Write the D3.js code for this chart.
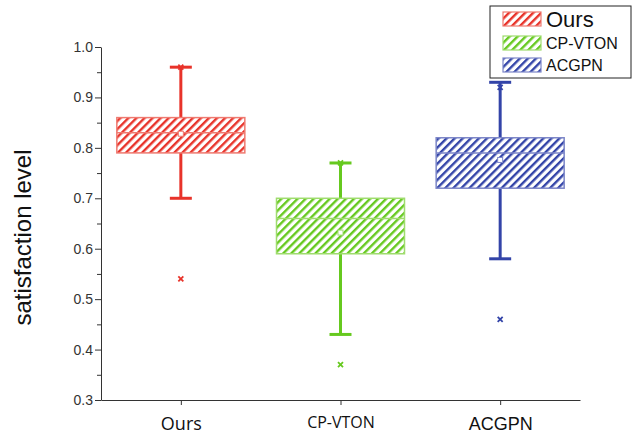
<!DOCTYPE html>
<html>
<head>
<meta charset="utf-8">
<script src="https://cdnjs.cloudflare.com/ajax/libs/d3/7.8.5/d3.min.js"></script>
<style>
  body { margin:0; padding:0; background:#fff; }
  svg text { font-family: Arial, "Liberation Sans", sans-serif; }
</style>
</head>
<body>
<svg id="chart" width="632" height="434"></svg>
<script>
// data
var methods = ["Ours", "CP-VTON", "ACGPN"];
var q1      = [0.79, 0.59, 0.72];
var median  = [0.83, 0.66, 0.79];
var q3      = [0.86, 0.70, 0.82];
var mean    = [0.828, 0.632, 0.776];
var whiskLo = [0.70, 0.43, 0.58];
var whiskHi = [0.96, 0.77, 0.93];
var minMark = [0.54, 0.37, 0.46];
var maxMark = [0.96, 0.77, 0.92];
var yTicks  = [0.3, 0.4, 0.5, 0.6, 0.7, 0.8, 0.9, 1.0];

var colors = ["#e8332a", "#66c91f", "#3344a8"];
var light  = ["#ef7a70", "#9fdc6e", "#7c86c8"];

var svg = d3.select("#chart");
var margin = {top: 47, right: 52, bottom: 34, left: 101};
var width = 632 - margin.left - margin.right,
    height = 434 - margin.top - margin.bottom;

var x = d3.scalePoint().domain(methods).range([0, width]).padding(0.5);
var y = d3.scaleLinear().domain([0.3, 1.0]).range([height, 0]);

var defs = svg.append("defs");
methods.forEach(function(m, i) {
  var p = defs.append("pattern")
    .attr("id", "hatch" + i)
    .attr("patternUnits", "userSpaceOnUse")
    .attr("width", 5.7).attr("height", 5.7)
    .attr("patternTransform", "rotate(45)");
  p.append("rect").attr("width", 5.7).attr("height", 5.7).attr("fill", "#fff");
  p.append("line").attr("x1", 1.2).attr("y1", 0).attr("x2", 1.2).attr("y2", 5.7)
    .attr("stroke", colors[i]).attr("stroke-width", 2.4);
});

var g = svg.append("g").attr("transform", "translate(" + margin.left + "," + margin.top + ")");

// y axis with minor ticks
g.append("g")
  .call(d3.axisLeft(y).tickValues(d3.range(0.35, 1.0, 0.1)).tickSize(4).tickFormat(""))
  .call(function(a) { a.select(".domain").remove(); a.selectAll("line").attr("stroke", "#333"); });
g.append("g")
  .call(d3.axisLeft(y).tickValues(yTicks).tickSize(6).tickSizeOuter(0).tickFormat(d3.format(".1f")))
  .call(function(a) {
    a.select(".domain").attr("stroke", "#333");
    a.selectAll("line").attr("stroke", "#333");
    a.selectAll("text").attr("font-size", 14).attr("fill", "#333").attr("x", -8);
  });

g.append("g")
  .attr("transform", "translate(0," + height + ")")
  .call(d3.axisBottom(x).tickSize(5).tickSizeOuter(0))
  .call(function(a) {
    a.select(".domain").attr("stroke", "#333");
    a.selectAll("line").attr("stroke", "#333");
    a.selectAll("text").attr("fill", "#111").attr("y", 14).attr("dy", "0.9em")
      .attr("font-size", function(d) { return d === "CP-VTON" ? 16 : 18; })
      .style("font-family", function(d) { return d === "ACGPN" ? "Arial, 'Liberation Sans', sans-serif" : "'Open Sans', 'DejaVu Sans', sans-serif"; });
  });

svg.append("text")
  .attr("transform", "translate(31," + (margin.top + height / 2 + 14) + ") rotate(-90)")
  .attr("text-anchor", "middle")
  .attr("font-size", 24).attr("fill", "#111")
  .text("satisfaction level");

var boxW = 128, capW = 22;
methods.forEach(function(m, i) {
  var cx = x(m), c = colors[i];
  var bg = g.append("g");
  // whiskers
  bg.append("line").attr("x1", cx).attr("x2", cx).attr("y1", y(q3[i])).attr("y2", y(whiskHi[i]))
    .attr("stroke", c).attr("stroke-width", 3);
  bg.append("line").attr("x1", cx).attr("x2", cx).attr("y1", y(q1[i])).attr("y2", y(whiskLo[i]))
    .attr("stroke", c).attr("stroke-width", 3);
  [whiskHi[i], whiskLo[i]].forEach(function(v) {
    bg.append("line").attr("x1", cx - capW / 2).attr("x2", cx + capW / 2).attr("y1", y(v)).attr("y2", y(v))
      .attr("stroke", c).attr("stroke-width", 3);
  });
  // box
  bg.append("rect").attr("x", cx - boxW / 2).attr("width", boxW)
    .attr("y", y(q3[i])).attr("height", y(q1[i]) - y(q3[i]))
    .attr("fill", "url(#hatch" + i + ")").attr("stroke", light[i]).attr("stroke-width", 1.5);
  bg.append("line").attr("x1", cx - boxW / 2).attr("x2", cx + boxW / 2)
    .attr("y1", y(median[i])).attr("y2", y(median[i]))
    .attr("stroke", light[i]).attr("stroke-width", 1.5);
  // mean square
  bg.append("rect").attr("x", cx - 2.5).attr("y", y(mean[i]) - 2.5).attr("width", 5).attr("height", 5)
    .attr("fill", "#fff").attr("stroke", light[i]).attr("stroke-width", 1);
  // min / max crosses
  [minMark[i], maxMark[i]].forEach(function(v) {
    var yy = y(v);
    bg.append("path").attr("d", "M" + (cx - 2.5) + "," + (yy - 2.5) + "L" + (cx + 2.5) + "," + (yy + 2.5) +
      "M" + (cx + 2.5) + "," + (yy - 2.5) + "L" + (cx - 2.5) + "," + (yy + 2.5))
      .attr("stroke", c).attr("stroke-width", 1.8);
  });
});

// legend
var lg = svg.append("g").attr("transform", "translate(490,6)");
lg.append("rect").attr("width", 141).attr("height", 72).attr("fill", "#fff").attr("stroke", "#222").attr("stroke-width", 1);
var rowY = [13, 37, 59];
methods.forEach(function(m, i) {
  lg.append("rect").attr("x", 13).attr("y", rowY[i] - 7).attr("width", 38).attr("height", 14)
    .attr("fill", "url(#hatch" + i + ")").attr("stroke", light[i]).attr("stroke-width", 1.2);
  lg.append("text").attr("x", 56).attr("y", rowY[i]).attr("dy", "0.36em")
    .attr("font-size", i === 0 ? 22 : 16).attr("fill", "#111").text(m);
});
</script>
</body>
</html>
